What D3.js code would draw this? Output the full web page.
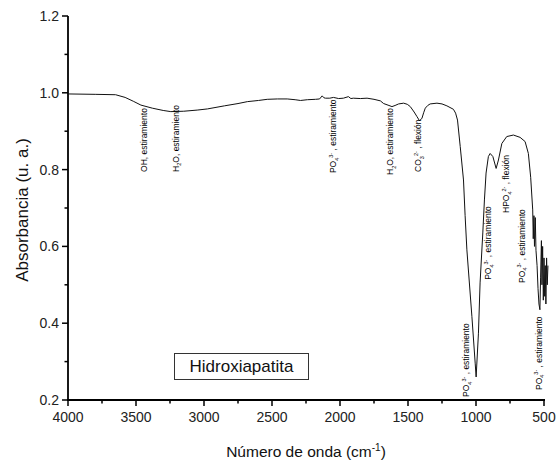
<!DOCTYPE html>
<html>
<head>
<meta charset="utf-8">
<script src="https://cdn.jsdelivr.net/npm/d3@7"></script>
<style>
  html, body { margin: 0; padding: 0; background: #fff; }
  svg { display: block; font-family: Arial, "Liberation Sans", sans-serif; }
</style>
</head>
<body>
<svg id="chart" width="560" height="463"></svg>
<script>
// FTIR spectrum of hydroxyapatite: wavenumber (cm-1) and absorbance (a.u.)
const wavenumber = [
  4000, 3800, 3650, 3580, 3520, 3464, 3380, 3300, 3244, 3149, 3050, 2975, 2850, 2750,
  2681, 2600, 2535, 2460, 2388, 2330, 2290, 2240, 2180, 2150, 2131, 2118, 2107, 2075,
  2048, 2010, 1975, 1938, 1920, 1902, 1850, 1801, 1750, 1703, 1679, 1640, 1618, 1595,
  1569, 1532, 1505, 1483, 1455, 1434, 1415, 1397, 1385, 1373, 1355, 1337, 1287, 1250,
  1214, 1166, 1150, 1136, 1116, 1092, 1080, 1067, 1030, 1006, 999, 982, 970, 950, 938,
  926, 909, 896, 876, 852, 835, 810, 774, 725, 676, 639, 615, 598, 583, 579, 574, 570,
  564, 559, 551, 544, 537, 530, 525, 519, 515, 510, 505, 500, 495, 491, 486, 481, 476, 471
];
const absorbance = [
  0.997, 0.996, 0.995, 0.988, 0.978, 0.968, 0.960, 0.954, 0.951, 0.952, 0.955, 0.958, 0.966, 0.972,
  0.977, 0.980, 0.983, 0.984, 0.984, 0.982, 0.980, 0.982, 0.983, 0.984, 0.992, 0.987, 0.986, 0.986,
  0.988, 0.985, 0.986, 0.990, 0.985, 0.986, 0.985, 0.986, 0.983, 0.979, 0.972, 0.967, 0.964, 0.967,
  0.971, 0.973, 0.970, 0.964, 0.950, 0.938, 0.927, 0.934, 0.948, 0.960, 0.967, 0.971, 0.973, 0.971,
  0.966, 0.957, 0.947, 0.929, 0.860, 0.773, 0.680, 0.591, 0.417, 0.296, 0.260, 0.374, 0.505, 0.635, 0.721,
  0.791, 0.834, 0.842, 0.834, 0.803, 0.825, 0.868, 0.886, 0.890, 0.884, 0.873, 0.842, 0.780, 0.695, 0.620, 0.680, 0.600,
  0.675, 0.590, 0.550, 0.490, 0.450, 0.435, 0.520, 0.615, 0.500, 0.600, 0.460, 0.570, 0.470, 0.550, 0.450, 0.570, 0.500, 0.550
];

const xTicks = [4000, 3500, 3000, 2500, 2000, 1500, 1000, 500];
const yTicks = [0.2, 0.4, 0.6, 0.8, 1.0, 1.2];

// Band assignments: formula parts (text, position), vibration mode,
// and wavenumber / absorbance of the lower end of each label
const bandFormula = [
  [["OH", ""]],
  [["H", ""], ["2", "sub"], ["O", ""]],
  [["PO", ""], ["4", "sub"], ["3-", "sup"]],
  [["H", ""], ["2", "sub"], ["O", ""]],
  [["CO", ""], ["3", "sub"], ["2-", "sup"]],
  [["PO", ""], ["4", "sub"], ["3-", "sup"]],
  [["PO", ""], ["4", "sub"], ["3-", "sup"]],
  [["HPO", ""], ["4", "sub"], ["2-", "sup"]],
  [["PO", ""], ["4", "sub"], ["3-", "sup"]],
  [["PO", ""], ["4", "sub"], ["3-", "sup"]]
];
const bandMode = [
  ", estiramiento", ", estiramiento", " , estiramiento", ", estiramiento", " , flexión",
  " , estiramiento", " , estiramiento", " , flexión", " , estiramiento", " , estiramiento"
];
const bandWavenumber = [3442, 3208, 2048, 1630, 1425, 1072, 911, 779, 662, 537];
const bandBase = [0.794, 0.794, 0.791, 0.786, 0.794, 0.208, 0.513, 0.687, 0.505, 0.226];

const svg = d3.select("#chart");

const x = d3.scaleLinear().domain([4000, 500]).range([68, 544]);
const y = d3.scaleLinear().domain([0.2, 1.2]).range([400, 16]);

// Minor ticks halfway between major ones
const xMinor = d3.range(4000, 499, -250).filter(v => v % 500 !== 0);
const yMinor = [0.3, 0.5, 0.7, 0.9, 1.1];

const axisColor = "#000";
const labelColor = "#222";

// X axis
const gx = svg.append("g").attr("transform", `translate(0,${y(0.2)})`);
gx.append("line").attr("x1", x(4000) - 1).attr("x2", x(500) + 1)
  .attr("stroke", axisColor).attr("stroke-width", 1.8);
gx.selectAll(".xmaj").data(xTicks).join("line")
  .attr("x1", d => x(d)).attr("x2", d => x(d)).attr("y1", 0).attr("y2", 6)
  .attr("stroke", axisColor).attr("stroke-width", 1.5);
gx.selectAll(".xmin").data(xMinor).join("line")
  .attr("x1", d => x(d)).attr("x2", d => x(d)).attr("y1", 0).attr("y2", 3.5)
  .attr("stroke", axisColor).attr("stroke-width", 1.5);
gx.selectAll(".xlab").data(xTicks).join("text")
  .attr("x", d => x(d)).attr("y", 22).attr("text-anchor", "middle")
  .attr("font-size", 14).attr("fill", labelColor).text(d => d);

// Y axis
const gy = svg.append("g").attr("transform", `translate(${x(4000)},0)`);
gy.append("line").attr("y1", y(1.2)).attr("y2", y(0.2) + 1)
  .attr("stroke", axisColor).attr("stroke-width", 1.8);
gy.selectAll(".ymaj").data(yTicks).join("line")
  .attr("y1", d => y(d)).attr("y2", d => y(d)).attr("x1", 0).attr("x2", -6)
  .attr("stroke", axisColor).attr("stroke-width", 1.5);
gy.selectAll(".ymin").data(yMinor).join("line")
  .attr("y1", d => y(d)).attr("y2", d => y(d)).attr("x1", 0).attr("x2", -3.5)
  .attr("stroke", axisColor).attr("stroke-width", 1.5);
gy.selectAll(".ylab").data(yTicks).join("text")
  .attr("x", -9).attr("y", d => y(d)).attr("dy", "0.36em").attr("text-anchor", "end")
  .attr("font-size", 14).attr("fill", labelColor).text(d => d.toFixed(1));

// Axis titles
const xt = svg.append("text").attr("x", 306).attr("y", 457).attr("text-anchor", "middle")
  .attr("font-size", 15.5).attr("fill", "#111");
xt.append("tspan").text("Número de onda (cm");
xt.append("tspan").attr("font-size", 10).attr("dy", -6).text("-1");
xt.append("tspan").attr("dy", 6).text(")");

svg.append("text").attr("transform", `translate(28,${(y(1.2) + y(0.2)) / 2 + 2}) rotate(-90)`)
  .attr("text-anchor", "middle").attr("font-size", 17).attr("fill", "#111")
  .text("Absorbancia (u. a.)");

// Spectrum
const pts = wavenumber.map((w, i) => [w, absorbance[i]]);
svg.append("path").datum(pts)
  .attr("fill", "none").attr("stroke", "#111").attr("stroke-width", 1)
  .attr("stroke-linejoin", "round")
  .attr("d", d3.line().x(d => x(d[0])).y(d => y(d[1])));

// Band labels, reading upward from their lower end
const shiftFor = { "": 0, sub: 2.5, sup: -3.5 };
bandWavenumber.forEach((w, i) => {
  const t = svg.append("text")
    .attr("transform", `translate(${x(w) + 3},${y(bandBase[i])}) rotate(-90)`)
    .attr("font-size", 8.5).attr("fill", "#000");
  let shift = 0;
  bandFormula[i].forEach(([s, kind]) => {
    const target = shiftFor[kind];
    const ts = t.append("tspan").text(s).attr("dy", target - shift);
    if (kind) ts.attr("font-size", 5.5);
    shift = target;
  });
  t.append("tspan").attr("dy", -shift).text(bandMode[i]);
});

// Sample name box
const lg = svg.append("g");
lg.append("rect").attr("x", 174.5).attr("y", 353.5).attr("width", 134).attr("height", 26)
  .attr("fill", "#fff").attr("stroke", "#333").attr("stroke-width", 1);
lg.append("text").attr("x", 241.5).attr("y", 372).attr("text-anchor", "middle")
  .attr("font-size", 17).attr("fill", "#111").text("Hidroxiapatita");
</script>
</body>
</html>
